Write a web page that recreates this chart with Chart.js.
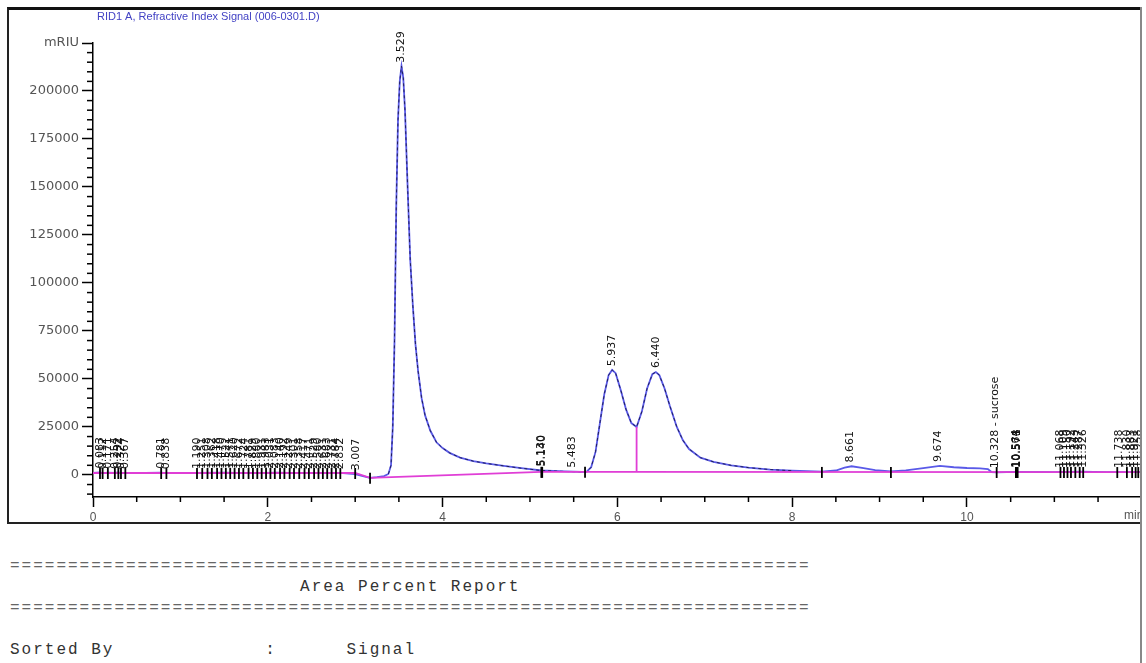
<!DOCTYPE html>
<html>
<head>
<meta charset="utf-8">
<script src="https://cdn.jsdelivr.net/npm/chart.js@4.4.0/dist/chart.umd.min.js"></script>
<style>
  html, body { margin: 0; padding: 0; background: #fff; }
  body { width: 1146px; height: 663px; position: relative; overflow: hidden; }
  #frame {
    position: absolute; left: 7px; top: 7px; width: 1133px; height: 512px;
    border-top: 3px solid #111; border-left: 2px solid #222; border-bottom: 2px solid #222;
  }
  #rline { position: absolute; left: 1140px; top: 7px; width: 2px; height: 656px; background: #888; }
  #chartWrap { position: absolute; left: 9px; top: 10px; width: 1131px; height: 511px; }
  #report {
    position: absolute; left: 10px; top: 556px; margin: 0;
    font-family: "Liberation Mono", monospace; font-size: 16px; letter-spacing: 2px;
    line-height: 21px; color: #333;
  }
  #report .eq { color: #666; }
</style>
</head>
<body>
<div id="frame"></div>
<div id="chartWrap"><canvas id="chrom"></canvas></div>
<div id="rline"></div>
<pre id="report"><span class="eq">=====================================================================</span>
                         Area Percent Report
<span class="eq">=====================================================================</span>

Sorted By             :      Signal</pre>

<script>
// signal trace (min / nRIU)
const sigTime = [
  0.00, 0.08, 0.11, 0.17, 0.25, 0.29, 0.32, 0.37, 0.60, 0.78, 0.84, 1.00, 1.17, 1.50, 1.80,
  2.10, 2.40, 2.70, 2.86, 3.00, 3.10, 3.17, 3.25, 3.33, 3.38, 3.41, 3.43, 3.45, 3.47, 3.49,
  3.51, 3.53, 3.55, 3.57, 3.60, 3.63, 3.66, 3.69, 3.72, 3.76, 3.80, 3.86, 3.93, 4.00, 4.08,
  4.20, 4.35, 4.50, 4.70, 4.90, 5.13, 5.40, 5.60, 5.65, 5.70, 5.75, 5.80, 5.85, 5.90, 5.94,
  5.98, 6.04, 6.10, 6.16, 6.22, 6.28, 6.34, 6.40, 6.44, 6.48, 6.54, 6.60, 6.68, 6.75, 6.82,
  6.95, 7.10, 7.30, 7.50, 7.75, 8.00, 8.34, 8.50, 8.60, 8.68, 8.80, 8.95, 9.13, 9.30, 9.50,
  9.69, 9.85, 10.00, 10.15, 10.24, 10.28, 10.34, 10.57, 11.00, 11.30, 11.60, 11.98
];
const sigValue = [
  1000, 1300, 900, 1200, 1000, 1300, 900, 1000, 1000, 1200, 900, 1000, 1000, 1200, 900,
  1200, 900, 1100, 900, 400, -800, -1500, -1200, -600, 500, 5000, 25000, 70000, 140000, 185000,
  205000, 213000, 207000, 190000, 150000, 112000, 88000, 68000, 54000, 40000, 31000, 23000, 17000, 14000, 11500,
  9000, 7200, 6000, 4700, 3500, 2300, 1800, 1600, 1700, 4000, 12000, 27000, 42000, 52000, 54700,
  53000, 44000, 34000, 27000, 25000, 33000, 45000, 52500, 53600, 52000, 45000, 36000, 25000, 18000, 13500,
  9000, 6800, 5000, 3800, 2800, 2200, 1700, 2300, 3800, 4500, 3700, 2500, 1800, 2400, 3500,
  4700, 4000, 3600, 3400, 3000, 1500, 1300, 1600, 1500, 1700, 1500, 1500
];

// integration baseline
const baseTime = [0, 3.00, 3.17, 5.13, 5.65, 11.98];
const baseValue = [1000, 1000, -1500, 1600, 1600, 1500];

// valley drop line
const dropTime = [6.22];

// integration event marks
const eventTimes = [
  0.08, 0.11, 0.17, 0.25, 0.29, 0.32, 0.37, 0.78, 0.84,
  1.19, 1.25, 1.31, 1.36, 1.42, 1.47, 1.52, 1.57, 1.62, 1.67, 1.72, 1.78, 1.83, 1.88, 1.93, 1.98,
  2.03, 2.08, 2.14, 2.19, 2.25, 2.30, 2.36, 2.42, 2.47, 2.53, 2.58, 2.63, 2.68, 2.73, 2.78, 2.83,
  3.00, 3.17, 5.13, 5.14, 5.63, 8.34, 9.13, 10.34, 10.56, 10.57, 10.58,
  11.07, 11.11, 11.15, 11.19, 11.24, 11.29, 11.33, 11.72, 11.83, 11.89, 11.93, 11.96
];

// retention times printed over peaks
const peakTimes = [
  0.083, 0.112, 0.171, 0.254, 0.292, 0.324, 0.367, 0.781, 0.838,
  1.190, 1.251, 1.308, 1.362, 1.418, 1.470, 1.522, 1.571, 1.620, 1.672, 1.724, 1.781, 1.829, 1.880,
  1.931, 1.983, 2.031, 2.083, 2.140, 2.192, 2.249, 2.301, 2.358, 2.417, 2.471, 2.529, 2.580, 2.631,
  2.683, 2.731, 2.784, 2.832, 3.007, 3.529, 5.130, 5.140, 5.483, 5.937, 6.440, 8.661, 9.674,
  10.328, 10.564, 10.571, 10.578, 11.068, 11.109, 11.150, 11.192, 11.243, 11.287, 11.326,
  11.738, 11.830, 11.883, 11.921, 11.958
];
const namedPeakTimes = [10.328];
const namedPeakNames = ["sucrose"];

const xMajorTicks = [0, 2, 4, 6, 8, 10];
const yMajorTicks = [0, 25000, 50000, 75000, 100000, 125000, 150000, 175000, 200000, 225000];
const yUnitLabel = "mRIU";
const xUnitLabel = "min";
const titleText = "RID1 A, Refractive Index Signal (006-0301.D)";

function interp(ts, vs, t) {
  if (t <= ts[0]) return vs[0];
  for (let i = 1; i < ts.length; i++) {
    if (t <= ts[i]) {
      const f = (t - ts[i - 1]) / (ts[i] - ts[i - 1]);
      return vs[i - 1] + f * (vs[i] - vs[i - 1]);
    }
  }
  return vs[vs.length - 1];
}

function toPoints(ts, vs) {
  return ts.map((t, i) => ({ x: t, y: vs[i] }));
}

const chromPlugin = {
  id: "chromExtras",
  afterDatasetsDraw(chart) {
    const { ctx, scales: { x, y } } = chart;
    ctx.save();
    // event marks on the baseline
    ctx.strokeStyle = "#000";
    ctx.lineWidth = 1.8;
    eventTimes.forEach((t) => {
      const px = x.getPixelForValue(t);
      const py = y.getPixelForValue(interp(baseTime, baseValue, t));
      ctx.beginPath();
      ctx.moveTo(px, py - 5);
      ctx.lineTo(px, py + 6);
      ctx.stroke();
    });
    // rotated retention time labels
    ctx.fillStyle = "#111";
    ctx.font = "11px 'DejaVu Sans'";
    ctx.textAlign = "left";
    ctx.textBaseline = "middle";
    peakTimes.forEach((t) => {
      let txt = t.toFixed(3);
      const k = namedPeakTimes.indexOf(t);
      if (k >= 0) txt += " - " + namedPeakNames[k];
      const px = x.getPixelForValue(t);
      const py = y.getPixelForValue(interp(sigTime, sigValue, t)) - 4;
      ctx.save();
      ctx.translate(px, py);
      ctx.rotate(-Math.PI / 2);
      ctx.fillText(txt, 0, 0);
      ctx.restore();
    });
    ctx.restore();
  },
  afterDraw(chart) {
    const { ctx, chartArea, scales: { x, y } } = chart;
    ctx.save();
    // title
    ctx.fillStyle = "#4242c4";
    ctx.font = "11px 'Liberation Sans'";
    ctx.textAlign = "left";
    ctx.textBaseline = "middle";
    ctx.fillText(titleText, chartArea.left + 4, 7);
    // minor ticks
    ctx.strokeStyle = "#000";
    ctx.lineWidth = 1.5;
    for (let v = -10000; v <= 220000; v += 5000) {
      if (v % 25000 === 0) continue;
      const py = y.getPixelForValue(v);
      ctx.beginPath();
      ctx.moveTo(chartArea.left - 6, py);
      ctx.lineTo(chartArea.left, py);
      ctx.stroke();
    }
    for (let t = 0.5; t <= 11.9; t += 0.5) {
      if (Math.abs(t % 2) < 1e-9) continue;
      const px = x.getPixelForValue(t);
      ctx.beginPath();
      ctx.moveTo(px, chartArea.bottom);
      ctx.lineTo(px, chartArea.bottom + 5);
      ctx.stroke();
    }
    // x unit
    ctx.fillStyle = "#555";
    ctx.font = "12px 'Liberation Sans'";
    ctx.textAlign = "left";
    ctx.textBaseline = "top";
    ctx.fillText(xUnitLabel, chartArea.right - 16, chartArea.bottom + 13);
    ctx.restore();
  }
};

new Chart(document.getElementById("chrom").getContext("2d"), {
  type: "line",
  data: {
    datasets: [
      {
        data: toPoints(baseTime, baseValue),
        borderColor: "#e03ed6",
        borderWidth: 1.8,
        pointRadius: 0,
        order: 0
      },
      {
        data: dropTime.map((t) => [{ x: t, y: interp(baseTime, baseValue, t) }, { x: t, y: interp(sigTime, sigValue, t) }]).flat(),
        borderColor: "#e03ed6",
        borderWidth: 1.8,
        pointRadius: 0,
        order: 0
      },
      {
        data: toPoints(sigTime, sigValue),
        borderColor: "#1f1f5c",
        borderWidth: 1,
        borderDash: [3, 3],
        pointRadius: 0,
        order: 1,
        segment: {
          borderColor: (c) => (c.p0.parsed.x >= 3.38 && c.p1.parsed.x <= 8.0 ? "#1f1f5c" : "rgba(0,0,0,0)")
        }
      },
      {
        data: toPoints(sigTime, sigValue),
        borderColor: "#5a5ae8",
        borderWidth: 1.8,
        pointRadius: 0,
        order: 2
      }
    ]
  },
  options: {
    responsive: true,
    maintainAspectRatio: false,
    animation: false,
    layout: { padding: { top: 33, right: 0, left: 0, bottom: 0 } },
    plugins: { legend: { display: false }, tooltip: { enabled: false }, title: { display: false } },
    scales: {
      x: {
        type: "linear",
        min: 0,
        max: 11.98,
        afterFit: (s) => { s.height = 24; },
        afterBuildTicks: (s) => { s.ticks = xMajorTicks.map((v) => ({ value: v })); },
        border: { display: true, color: "#000", width: 1.5 },
        grid: { drawOnChartArea: false, drawTicks: true, tickLength: 10, tickColor: "#000", tickWidth: 1.5 },
        ticks: {
          autoSkip: false, maxRotation: 0, padding: 3, color: "#555",
          font: { family: "Liberation Sans", size: 12 },
          callback: (v) => String(v)
        }
      },
      y: {
        type: "linear",
        min: -11500,
        max: 225000,
        afterFit: (s) => { s.width = 84; },
        afterBuildTicks: (s) => { s.ticks = yMajorTicks.map((v) => ({ value: v })); },
        border: { display: true, color: "#000", width: 1.5 },
        grid: { drawOnChartArea: false, drawTicks: true, tickLength: 11, tickColor: "#000", tickWidth: 1.5 },
        ticks: {
          padding: 3, color: "#555",
          font: { family: "DejaVu Sans", size: 13 },
          callback: (v) => (v === yMajorTicks[yMajorTicks.length - 1] ? yUnitLabel : String(v))
        }
      }
    }
  },
  plugins: [chromPlugin]
});
</script>
</body>
</html>
